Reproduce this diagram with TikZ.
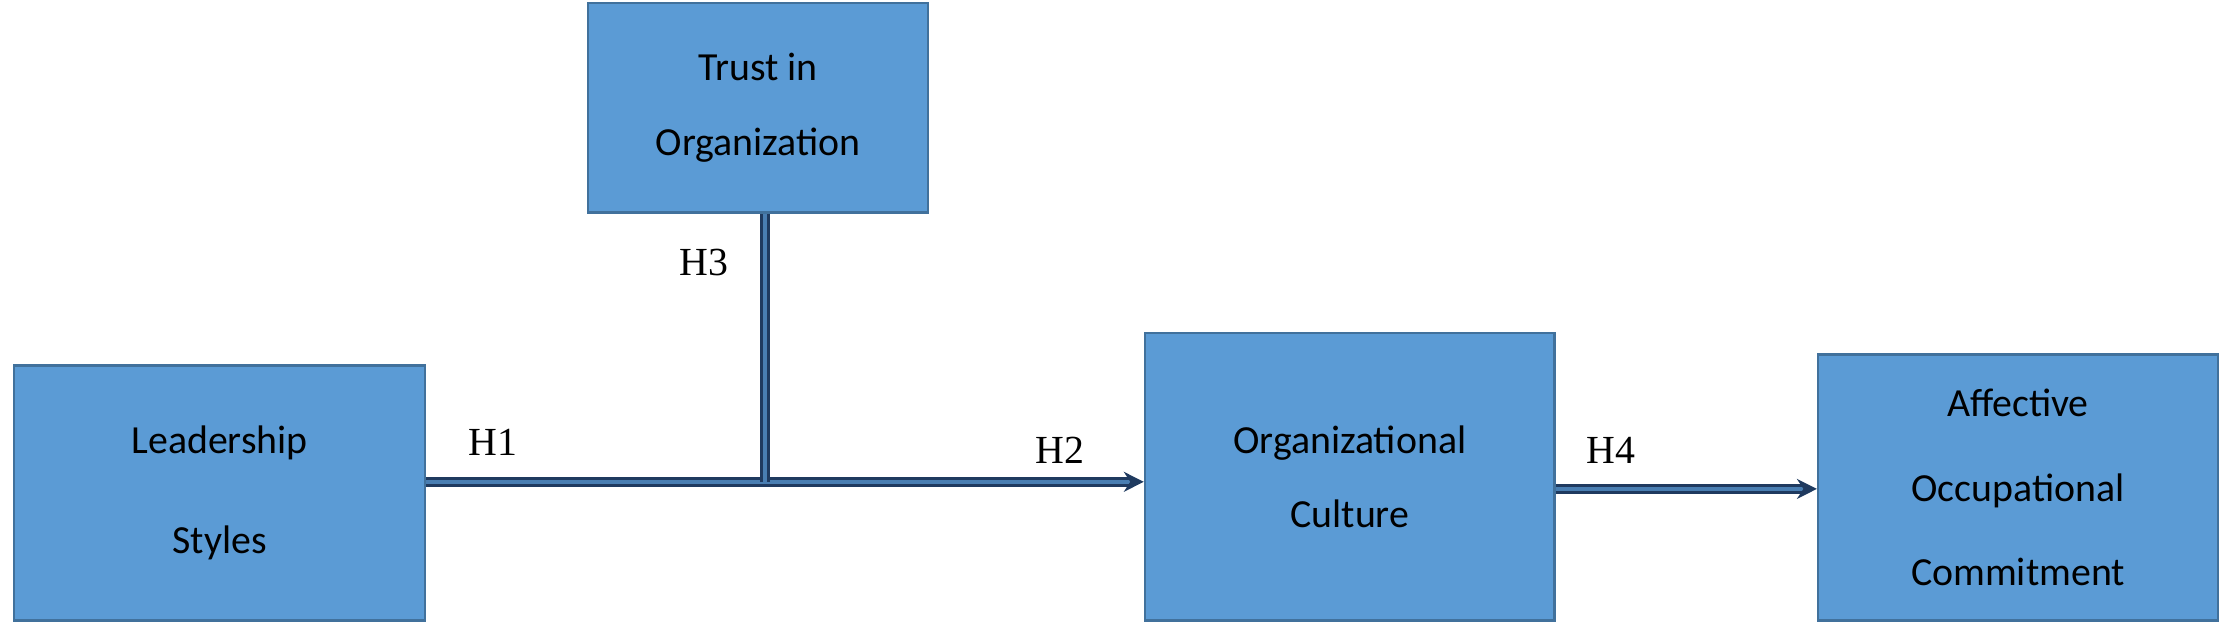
\documentclass[tikz,border=0pt]{standalone}
\usepackage{fontspec}
\setmainfont{Liberation Serif}
\newfontfamily\boxfont{Carlito}
\usetikzlibrary{arrows.meta}
\definecolor{boxfill}{HTML}{5B9BD5}
\definecolor{boxline}{HTML}{41719C}
\definecolor{navy}{HTML}{1F3A5F}
\begin{document}
\begin{tikzpicture}[x=0.02cm,y=-0.02cm,
  bx/.style={draw=boxline,line width=1pt,fill=boxfill,align=center,font=\boxfont\fontsize{16}{30}\selectfont,inner sep=0pt},
  conn/.style={draw=navy,double=boxfill!70!navy,double distance=1.6pt,line width=1.2pt},
  lab/.style={font=\fontsize{16}{18}\selectfont}]
\useasboundingbox (0,0) rectangle (1568,447);
\node[bx,minimum width=240*0.02cm,minimum height=148*0.02cm] (trust) at (535,76) {Trust in\\Organization};
\node[bx,minimum width=290*0.02cm,minimum height=180*0.02cm] (lead) at (155,348) {Leadership\\[10pt]Styles};
\node[bx,minimum width=289*0.02cm,minimum height=203*0.02cm] (cult) at (952.5,336.5) {Organizational\\Culture};
\node[bx,minimum width=282*0.02cm,minimum height=188*0.02cm,font=\boxfont\fontsize{16}{34}\selectfont] (aff) at (1424,344) {Affective\\Occupational\\Commitment};
\coordinate (j) at (540,340);
\draw[conn] (lead.east |- j) -- (j);
\draw[conn,-{Stealth[length=8pt,width=8pt]}] (j) -- (cult.west |- j);
\draw[conn] (trust.south -| j) -- (j);
\draw[conn,-{Stealth[length=8pt,width=8pt]}] (cult.east |- 0,345) -- (aff.west |- 0,345);
\node[lab] (h3) at (497,185) {H3};
\node[lab] (h1) at (348,312) {H1};
\node[lab] (h2) at (748,318) {H2};
\node[lab] (h4) at (1137,318) {H4};
\end{tikzpicture}
\end{document}
